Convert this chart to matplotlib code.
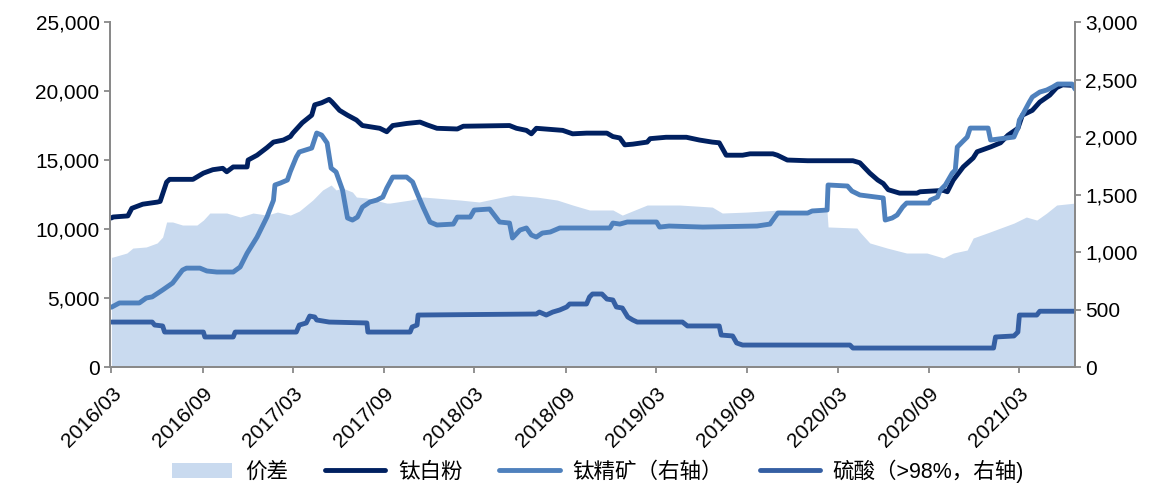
import matplotlib
matplotlib.use("Agg")
import matplotlib.pyplot as plt
import matplotlib.dates as mdates
from matplotlib.ticker import FuncFormatter, MultipleLocator
import pandas as pd

plt.rcParams["font.family"] = ["Liberation Sans", "Noto Sans CJK SC"]

# 价差 (left axis)
spread_dates = [
    "2016-03-01", "2016-03-04", "2016-04-01", "2016-04-13", "2016-05-10", "2016-06-01",
    "2016-06-12", "2016-06-20", "2016-07-02", "2016-07-22", "2016-08-20", "2016-09-02",
    "2016-09-15", "2016-10-19", "2016-11-15", "2016-12-11", "2017-01-08", "2017-01-29",
    "2017-02-24", "2017-03-14", "2017-04-10", "2017-04-30", "2017-05-17", "2017-05-27",
    "2017-06-09", "2017-06-29", "2017-07-07", "2017-07-27", "2017-09-06", "2017-09-12",
    "2017-10-23", "2017-11-18", "2018-02-01", "2018-03-11", "2018-04-27", "2018-05-17",
    "2018-07-04", "2018-08-15", "2018-09-15", "2018-10-19", "2018-12-05", "2018-12-24",
    "2019-02-12", "2019-04-18", "2019-06-23", "2019-07-13", "2019-09-01", "2019-11-06",
    "2020-02-09", "2020-02-11", "2020-04-09", "2020-04-15", "2020-05-05", "2020-06-09",
    "2020-07-18", "2020-08-28", "2020-09-24", "2020-09-30", "2020-10-20", "2020-11-17",
    "2020-11-29", "2020-12-27", "2021-01-23", "2021-02-19", "2021-03-16", "2021-04-06",
    "2021-04-26", "2021-05-16", "2021-06-22",
]
spread_values = [
    7950, 7970, 8260, 8620, 8700, 8990,
    9420, 10510, 10510, 10290, 10290, 10650,
    11160, 11160, 10870, 11160, 11010, 11230,
    11010, 11300, 12100, 12830, 13190, 12830,
    12970, 12680, 12320, 12250, 11880, 11880,
    12100, 12320, 12100, 11960, 12320, 12460,
    12320, 12100, 11740, 11380, 11380, 11010,
    11740, 11740, 11590, 11160, 11230, 11380,
    11230, 10150, 10070, 9780, 8990, 8620,
    8260, 8260, 7970, 7900, 8260, 8480,
    9350, 9710, 10070, 10430, 10870, 10650,
    11160, 11740, 11880,
]

# 钛白粉 (left axis)
tio2_dates = [
    "2016-03-01", "2016-03-04", "2016-04-03", "2016-04-11", "2016-05-03", "2016-06-01",
    "2016-06-07", "2016-06-20", "2016-06-26", "2016-08-12", "2016-09-02", "2016-09-21",
    "2016-10-11", "2016-10-19", "2016-11-01", "2016-11-29", "2016-12-01", "2016-12-19",
    "2017-01-08", "2017-01-21", "2017-02-10", "2017-02-24", "2017-03-01", "2017-03-20",
    "2017-04-08", "2017-04-14", "2017-04-28", "2017-05-13", "2017-05-19", "2017-06-03",
    "2017-06-19", "2017-07-07", "2017-07-19", "2017-08-23", "2017-09-06", "2017-09-18",
    "2017-10-16", "2017-11-12", "2017-11-26", "2017-12-16", "2018-01-26", "2018-02-07",
    "2018-05-11", "2018-05-25", "2018-06-14", "2018-06-24", "2018-07-04", "2018-08-26",
    "2018-09-15", "2018-10-13", "2018-11-23", "2018-12-05", "2018-12-19", "2018-12-29",
    "2019-01-14", "2019-02-12", "2019-02-18", "2019-03-22", "2019-05-02", "2019-05-28",
    "2019-06-23", "2019-07-07", "2019-07-21", "2019-08-23", "2019-09-07", "2019-10-23",
    "2019-11-01", "2019-11-21", "2020-01-01", "2020-04-01", "2020-04-15", "2020-05-05",
    "2020-05-21", "2020-06-01", "2020-06-11", "2020-07-04", "2020-08-08", "2020-08-14",
    "2020-09-30", "2020-10-08", "2020-10-20", "2020-11-09", "2020-11-29", "2020-12-07",
    "2021-01-03", "2021-01-23", "2021-02-07", "2021-02-27", "2021-03-08", "2021-03-28",
    "2021-04-12", "2021-05-02", "2021-05-16", "2021-05-28", "2021-06-22",
]
tio2_values = [
    10800, 10870, 10950, 11500, 11800, 11950,
    12000, 13400, 13600, 13600, 14050, 14300,
    14400, 14150, 14500, 14500, 15000, 15350,
    15900, 16300, 16450, 16700, 16950, 17700,
    18250, 19000, 19150, 19400, 19200, 18600,
    18250, 17900, 17500, 17300, 17050, 17500,
    17650, 17750, 17550, 17300, 17250, 17450,
    17500, 17300, 17150, 16900, 17300, 17150,
    16900, 16950, 16950, 16700, 16600, 16100,
    16150, 16300, 16550, 16650, 16650, 16450,
    16300, 16250, 15350, 15350, 15450, 15450,
    15350, 15000, 14950, 14950, 14800, 14050,
    13550, 13300, 12850, 12600, 12600, 12700,
    12800, 12700, 13550, 14500, 15150, 15600,
    15950, 16250, 16800, 17300, 18250, 18600,
    19200, 19700, 20250, 20450, 20400,
]

# 钛精矿 (right axis)
ore_dates = [
    "2016-03-01", "2016-03-17", "2016-04-26", "2016-05-10", "2016-05-22", "2016-06-12",
    "2016-07-02", "2016-07-22", "2016-07-30", "2016-08-26", "2016-09-09", "2016-09-29",
    "2016-11-01", "2016-11-15", "2016-11-29", "2016-12-19", "2017-01-08", "2017-01-21",
    "2017-01-24", "2017-02-04", "2017-02-18", "2017-02-24", "2017-03-08", "2017-03-14",
    "2017-04-08", "2017-04-18", "2017-04-28", "2017-05-09", "2017-05-17", "2017-05-27",
    "2017-06-09", "2017-06-19", "2017-06-29", "2017-07-09", "2017-07-19", "2017-08-03",
    "2017-08-17", "2017-08-29", "2017-09-06", "2017-09-18", "2017-10-16", "2017-10-28",
    "2017-11-06", "2017-11-18", "2017-12-02", "2017-12-16", "2018-01-18", "2018-01-26",
    "2018-02-21", "2018-03-01", "2018-04-01", "2018-04-21", "2018-05-11", "2018-05-17",
    "2018-06-01", "2018-06-14", "2018-06-24", "2018-07-04", "2018-07-16", "2018-08-01",
    "2018-08-20", "2018-11-29", "2018-12-05", "2018-12-19", "2019-01-03", "2019-03-03",
    "2019-03-09", "2019-03-28", "2019-06-04", "2019-09-21", "2019-10-17", "2019-10-27",
    "2019-11-02", "2020-01-01", "2020-01-10", "2020-02-09", "2020-02-11", "2020-03-21",
    "2020-03-30", "2020-04-15", "2020-06-01", "2020-06-05", "2020-06-19", "2020-06-29",
    "2020-07-10", "2020-07-18", "2020-09-01", "2020-09-04", "2020-09-18", "2020-09-24",
    "2020-10-04", "2020-10-18", "2020-10-24", "2020-10-28", "2020-11-07", "2020-11-17",
    "2020-11-23", "2020-12-29", "2021-01-03", "2021-02-19", "2021-02-27", "2021-03-02",
    "2021-03-08", "2021-03-22", "2021-03-28", "2021-04-12", "2021-04-26", "2021-05-08",
    "2021-05-18", "2021-06-16", "2021-06-22",
]
ore_values = [
    520, 557, 557, 600, 610, 670,
    730, 843, 860, 860, 835, 826,
    826, 870, 990, 1130, 1305, 1450,
    1583, 1600, 1626, 1700, 1826, 1870,
    1904, 2035, 2017, 1948, 1730, 1696,
    1539, 1296, 1278, 1304, 1391, 1435,
    1452, 1478, 1556, 1652, 1652, 1609,
    1513, 1391, 1261, 1235, 1243, 1304,
    1304, 1365, 1374, 1261, 1252, 1122,
    1191, 1209, 1148, 1130, 1165, 1174,
    1209, 1209, 1252, 1243, 1261, 1261,
    1217, 1226, 1217, 1226, 1243, 1304,
    1339, 1339, 1357, 1365, 1583, 1574,
    1530, 1496, 1470, 1278, 1296, 1322,
    1391, 1426, 1426, 1452, 1478, 1539,
    1583, 1687, 1713, 1913, 1957, 2000,
    2078, 2078, 1974, 2000, 2078, 2148,
    2191, 2304, 2348, 2391, 2409, 2435,
    2461, 2461, 2417,
]

# 硫酸 (right axis)
acid_dates = [
    "2016-03-01", "2016-05-22", "2016-05-27", "2016-06-12", "2016-06-16", "2016-09-02",
    "2016-09-05", "2016-11-01", "2016-11-05", "2017-03-08", "2017-03-14", "2017-03-28",
    "2017-04-04", "2017-04-14", "2017-04-18", "2017-05-13", "2017-07-28", "2017-07-30",
    "2017-10-23", "2017-10-27", "2017-11-06", "2017-11-08", "2018-07-04", "2018-07-10",
    "2018-07-24", "2018-08-06", "2018-08-20", "2018-09-03", "2018-09-09", "2018-10-13",
    "2018-10-19", "2018-10-25", "2018-11-13", "2018-11-23", "2018-12-05", "2018-12-12",
    "2018-12-24", "2019-01-04", "2019-01-14", "2019-01-23", "2019-04-24", "2019-05-04",
    "2019-07-07", "2019-07-11", "2019-08-03", "2019-08-11", "2019-08-23", "2020-03-26",
    "2020-04-01", "2021-01-09", "2021-01-13", "2021-02-19", "2021-02-27", "2021-03-02",
    "2021-04-06", "2021-04-12", "2021-06-22",
]
acid_values = [
    391, 391, 365, 357, 304, 304,
    261, 261, 304, 304, 365, 383,
    443, 435, 409, 391, 383, 304,
    304, 348, 365, 452, 461, 478,
    452, 478, 496, 522, 548, 548,
    609, 635, 635, 591, 583, 522,
    513, 435, 409, 391, 391, 357,
    357, 278, 270, 209, 191, 191,
    165, 165, 261, 270, 304, 452,
    452, 485, 485,
]

tick_dates = ["2016-03-01", "2016-09-01", "2017-03-01", "2017-09-01", "2018-03-01",
              "2018-09-01", "2019-03-01", "2019-09-01", "2020-03-01", "2020-09-01",
              "2021-03-01"]

C_SPREAD = "#c9daef"
C_TIO2 = "#002060"
C_ORE = "#4f81bd"
C_ACID = "#355fa3"
C_AXIS = "#898989"

fig = plt.figure(figsize=(11.66, 4.90), dpi=100)
ax = fig.add_axes([0.0943, 0.251, 0.8277, 0.704])
ax2 = ax.twinx()

sd = pd.to_datetime(spread_dates)
area = ax.fill_between(sd, 0, spread_values, color=C_SPREAD, lw=0, label="价差")
l1, = ax.plot(pd.to_datetime(tio2_dates), tio2_values, color=C_TIO2, lw=3.5,
              solid_joinstyle="round", solid_capstyle="round", label="钛白粉")
l2, = ax2.plot(pd.to_datetime(ore_dates), ore_values, color=C_ORE, lw=3.5,
               solid_joinstyle="round", solid_capstyle="round", label="钛精矿（右轴）")
l3, = ax2.plot(pd.to_datetime(acid_dates), acid_values, color=C_ACID, lw=3.5,
               solid_joinstyle="round", solid_capstyle="round", label="硫酸（>98%，右轴)")

ax.set_xlim(pd.Timestamp("2016-02-27"), pd.Timestamp("2021-06-22"))
ax.set_ylim(0, 25000)
ax2.set_ylim(0, 3000)
ax.yaxis.set_major_locator(MultipleLocator(5000))
ax2.yaxis.set_major_locator(MultipleLocator(500))
fmt = FuncFormatter(lambda v, p: f"{int(v):,}")
ax.yaxis.set_major_formatter(fmt)
ax2.yaxis.set_major_formatter(fmt)

ax.set_xticks(pd.to_datetime(tick_dates))
ax.xaxis.set_major_formatter(mdates.DateFormatter("%Y/%m"))
for lab in ax.get_xticklabels():
    lab.set_rotation(45)
    lab.set_ha("right")
    lab.set_rotation_mode("anchor")

for a in (ax, ax2):
    a.spines["top"].set_visible(False)
    for s in ("left", "right", "bottom"):
        a.spines[s].set_color(C_AXIS)
        a.spines[s].set_linewidth(1.3)
    a.tick_params(colors=C_AXIS, labelcolor="black", labelsize=15, length=4, width=1.3)
ax.tick_params(axis="x", pad=8)

fig.legend([area, l1, l2, l3], [h.get_label() for h in (area, l1, l2, l3)],
           loc="lower center", bbox_to_anchor=(0.513, -0.025), ncol=4, frameon=False,
           handlelength=2.8, handletextpad=0.6, columnspacing=1.7,
           prop={"family": ["Liberation Sans", "Noto Sans CJK SC"], "size": 15.5})

fig.savefig("out.png", dpi=100)
